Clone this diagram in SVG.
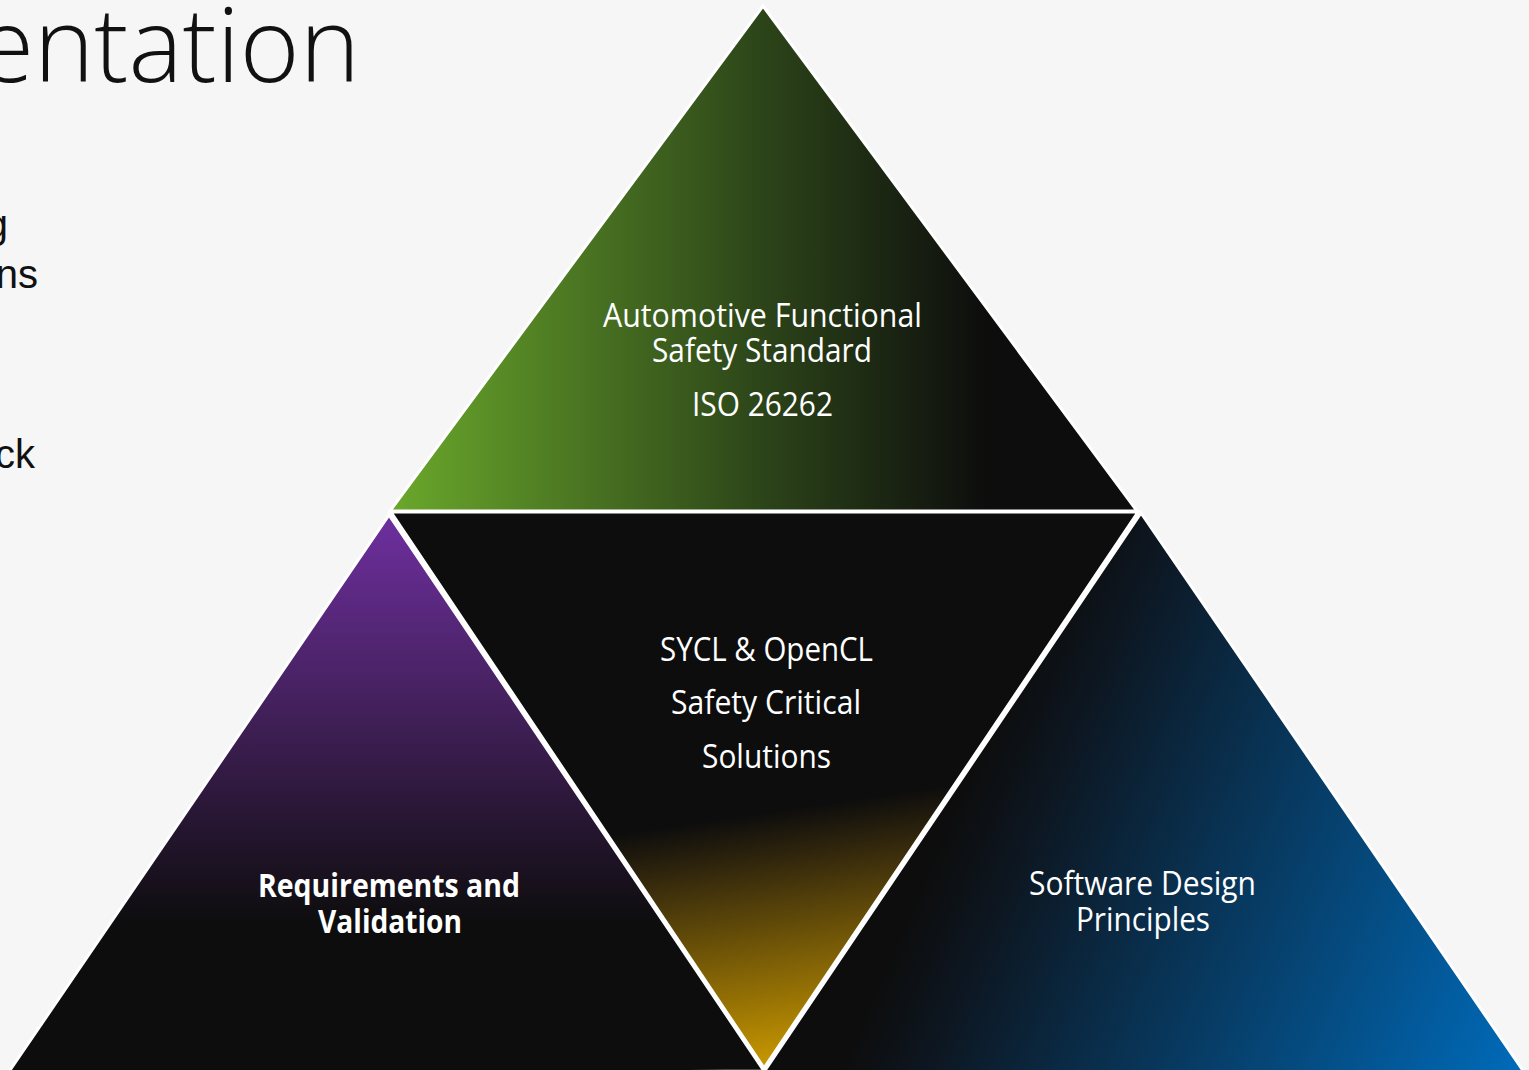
<svg xmlns="http://www.w3.org/2000/svg" width="1529" height="1070" viewBox="0 0 1529 1070">
  <defs>
    <!-- Top pillar: green fading to black, left to right -->
    <linearGradient id="gTop" gradientUnits="userSpaceOnUse" x1="391" y1="0" x2="1136" y2="0">
      <stop offset="0" stop-color="#6aa82b"/>
      <stop offset="0.5" stop-color="#2c4419"/>
      <stop offset="0.8" stop-color="#0d0d0d"/>
      <stop offset="1" stop-color="#0d0d0d"/>
    </linearGradient>
    <!-- Left pillar: purple fading to black, top to bottom -->
    <linearGradient id="gLeft" gradientUnits="userSpaceOnUse" x1="0" y1="515" x2="0" y2="925">
      <stop offset="0" stop-color="#6e2f9f"/>
      <stop offset="0.45" stop-color="#45215e"/>
      <stop offset="1" stop-color="#0d0d0d"/>
    </linearGradient>
    <!-- Centre: black with gold rising from the lower vertex -->
    <linearGradient id="gMid" gradientUnits="userSpaceOnUse" x1="727" y1="818" x2="764" y2="1068">
      <stop offset="0" stop-color="#0d0d0d"/>
      <stop offset="0.15" stop-color="#2a210d"/>
      <stop offset="1" stop-color="#c99800"/>
    </linearGradient>
    <!-- Right pillar: black to blue toward the lower right corner -->
    <linearGradient id="gRight" gradientUnits="userSpaceOnUse" x1="950" y1="820" x2="1522" y2="1070">
      <stop offset="0" stop-color="#0d0d0d"/>
      <stop offset="0.12" stop-color="#0d1620"/>
      <stop offset="1" stop-color="#006bba"/>
    </linearGradient>
  </defs>
  <style>
    .tri { stroke: #ffffff; stroke-width: 3; stroke-linejoin: miter; }
    .lbl { font-family: "Open Sans", "Lato", "DejaVu Sans", sans-serif; font-size: 33px; fill: #ffffff; text-anchor: start; }
    .bold { font-weight: 700; }
    .side { font-family: "Liberation Sans", Arial, sans-serif; font-size: 40px; fill: #111111; text-anchor: end; }
    .title { font-family: "Open Sans", "Lato", sans-serif; font-weight: 300; font-size: 104px; fill: #111111; }
  </style>

  <rect x="0" y="0" width="1529" height="1070" fill="#f6f6f6"/>

  <!-- slide heading and bullet fragments at the left edge -->
  <text class="title" x="-22" y="82" textLength="382" lengthAdjust="spacingAndGlyphs">entation</text>
  <text class="side" x="8" y="238">g</text>
  <text class="side" x="38" y="288">ns</text>
  <text class="side" x="35" y="468">ck</text>

  <g id="connectors"></g>

  <g id="node-centre">
    <polygon class="tri" fill="url(#gMid)" points="391,512 1138,512 764,1068"/>
    <text class="lbl" x="660" y="661" textLength="213" lengthAdjust="spacingAndGlyphs">SYCL &amp; OpenCL</text>
    <text class="lbl" x="671" y="714" textLength="190" lengthAdjust="spacingAndGlyphs">Safety Critical</text>
    <text class="lbl" x="702" y="768" textLength="129" lengthAdjust="spacingAndGlyphs">Solutions</text>
  </g>

  <g id="node-requirements">
    <polygon class="tri" fill="url(#gLeft)" points="389,515 764,1071 6,1076"/>
    <text class="lbl bold" x="258" y="897" textLength="262" lengthAdjust="spacingAndGlyphs">Requirements and</text>
    <text class="lbl bold" x="318" y="933" textLength="144" lengthAdjust="spacingAndGlyphs">Validation</text>
  </g>

  <g id="node-software">
    <polygon class="tri" fill="url(#gRight)" points="1141,513 1524,1072 764,1072"/>
    <text class="lbl" x="1029" y="895" textLength="227" lengthAdjust="spacingAndGlyphs">Software Design</text>
    <text class="lbl" x="1076" y="931" textLength="134" lengthAdjust="spacingAndGlyphs">Principles</text>
  </g>

  <g id="node-iso">
    <polygon class="tri" fill="url(#gTop)" points="763,6 1137,511 390,511"/>
    <text class="lbl" x="603" y="327" textLength="319" lengthAdjust="spacingAndGlyphs">Automotive Functional</text>
    <text class="lbl" x="652" y="362" textLength="220" lengthAdjust="spacingAndGlyphs">Safety Standard</text>
    <text class="lbl" x="692" y="416" textLength="141" lengthAdjust="spacingAndGlyphs">ISO 26262</text>
  </g>
</svg>
